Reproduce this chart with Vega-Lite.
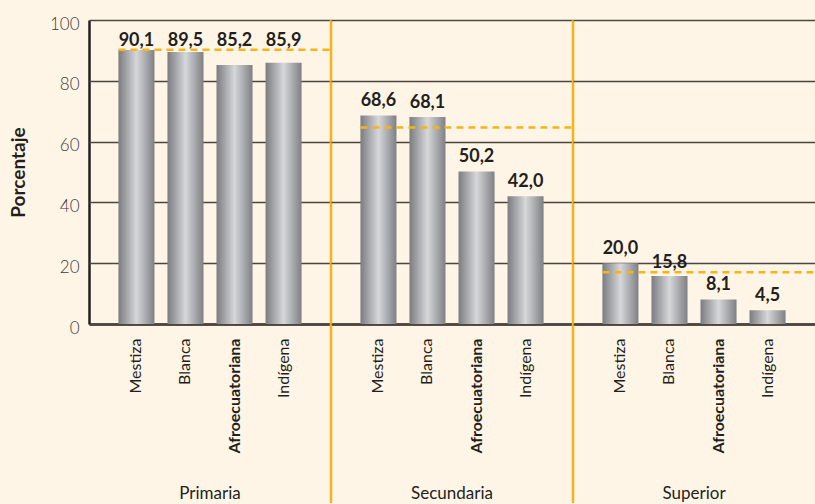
{
  "$schema": "https://vega.github.io/schema/vega-lite/v6.json",
  "background": "#FEF5E6",
  "padding": {"left": 9, "top": 15, "right": 0, "bottom": 0},
  "bounds": "flush",
  "config": {
    "locale": {"number": {"decimal": ",", "thousands": ".", "grouping": [3], "currency": ["", ""]}},
    "view": {"stroke": null},
    "font": "Lato"
  },
  "data": {
    "values": [
      {"nivel": "Primaria", "categoria": "Mestiza", "valor": 90.1, "promedio": 90.2},
      {"nivel": "Primaria", "categoria": "Blanca", "valor": 89.5, "promedio": 90.2},
      {"nivel": "Primaria", "categoria": "Afroecuatoriana", "valor": 85.2, "promedio": 90.2},
      {"nivel": "Primaria", "categoria": "Indígena", "valor": 85.9, "promedio": 90.2},
      {"nivel": "Secundaria", "categoria": "Mestiza", "valor": 68.6, "promedio": 64.6},
      {"nivel": "Secundaria", "categoria": "Blanca", "valor": 68.1, "promedio": 64.6},
      {"nivel": "Secundaria", "categoria": "Afroecuatoriana", "valor": 50.2, "promedio": 64.6},
      {"nivel": "Secundaria", "categoria": "Indígena", "valor": 42.0, "promedio": 64.6},
      {"nivel": "Superior", "categoria": "Mestiza", "valor": 20.0, "promedio": 17.0},
      {"nivel": "Superior", "categoria": "Blanca", "valor": 15.8, "promedio": 17.0},
      {"nivel": "Superior", "categoria": "Afroecuatoriana", "valor": 8.1, "promedio": 17.0},
      {"nivel": "Superior", "categoria": "Indígena", "valor": 4.5, "promedio": 17.0}
    ]
  },
  "facet": {
    "column": {
      "field": "nivel",
      "type": "nominal",
      "sort": ["Primaria", "Secundaria", "Superior"],
      "header": {
        "title": null,
        "labelOrient": "bottom",
        "labelFont": "Lato",
        "labelFontSize": 17,
        "labelColor": "#231f20",
        "labelPadding": 33
      }
    }
  },
  "spacing": 0,
  "spec": {
    "width": 242,
    "height": 304,
    "encoding": {
      "x": {
        "field": "categoria",
        "type": "nominal",
        "sort": ["Mestiza", "Blanca", "Afroecuatoriana", "Indígena"],
        "scale": {"paddingInner": 0.265, "paddingOuter": 0.6},
        "axis": {
          "title": null,
          "ticks": false,
          "labelAngle": -90,
          "labelFont": "Lato",
          "labelFontSize": 16,
          "labelColor": "#231f20",
          "labelPadding": 14,
          "labelFontWeight": {"condition": {"test": "datum.value === 'Afroecuatoriana'", "value": "bold"}, "value": "normal"},
          "domainColor": "#231f20",
          "domainWidth": 2.5
        }
      }
    },
    "layer": [
      {
        "mark": {
          "type": "bar",
          "color": {
            "gradient": "linear",
            "x1": 0, "y1": 0, "x2": 1, "y2": 0,
            "stops": [
              {"offset": 0, "color": "#7a7c80"},
              {"offset": 0.5, "color": "#d6d7d9"},
              {"offset": 1, "color": "#7e8084"}
            ]
          }
        },
        "encoding": {
          "y": {
            "field": "valor",
            "type": "quantitative",
            "scale": {"domain": [0, 100]},
            "axis": {
              "title": "Porcentaje",
              "values": [0, 20, 40, 60, 80, 100],
              "grid": true,
              "gridColor": "#4d4640",
              "gridWidth": 1.5,
              "domainColor": "#231f20",
              "domainWidth": 2.5,
              "ticks": false,
              "labelFont": "Lato",
              "labelFontSize": 17,
              "labelFontWeight": 300,
              "labelColor": "#3b3b3b",
              "labelPadding": 10,
              "labelOffset": 4,
              "titleFont": "Lato",
              "titleFontSize": 19,
              "titleFontWeight": "bold",
              "titleColor": "#231f20",
              "titlePadding": 21
            }
          }
        }
      },
      {
        "transform": [{"filter": "datum.valor >= datum.promedio || datum.promedio - datum.valor > 6"}],
        "mark": {"type": "text", "font": "Lato", "fontSize": 18, "fontWeight": "bold", "color": "#231f20", "baseline": "alphabetic", "dy": -9},
        "encoding": {
          "y": {"field": "valor", "type": "quantitative"},
          "text": {"field": "valor", "type": "quantitative", "format": ".1f"}
        }
      },
      {
        "transform": [{"filter": "datum.valor < datum.promedio && datum.promedio - datum.valor <= 6"}],
        "mark": {"type": "text", "font": "Lato", "fontSize": 18, "fontWeight": "bold", "color": "#231f20", "baseline": "alphabetic", "dy": -4},
        "encoding": {
          "y": {"field": "promedio", "type": "quantitative"},
          "text": {"field": "valor", "type": "quantitative", "format": ".1f"}
        }
      },
      {
        "transform": [{"filter": "datum.categoria === 'Mestiza'"}],
        "mark": {"type": "rule", "color": "#F5B41A", "strokeWidth": 2.5, "strokeDash": [7, 5]},
        "encoding": {
          "x": {"field": "categoria", "type": "nominal", "bandPosition": 0, "sort": ["Mestiza", "Blanca", "Afroecuatoriana", "Indígena"]},
          "x2": {"value": "width"},
          "y": {"field": "promedio", "type": "quantitative"}
        }
      },
      {
        "transform": [{"filter": "datum.categoria === 'Mestiza' && datum.nivel !== 'Superior'"}],
        "mark": {"type": "rule", "color": "#F7B21B", "strokeWidth": 2.5},
        "encoding": {
          "x": {"value": "width"},
          "y": {"value": 0},
          "y2": {"value": 483}
        }
      }
    ]
  }
}
